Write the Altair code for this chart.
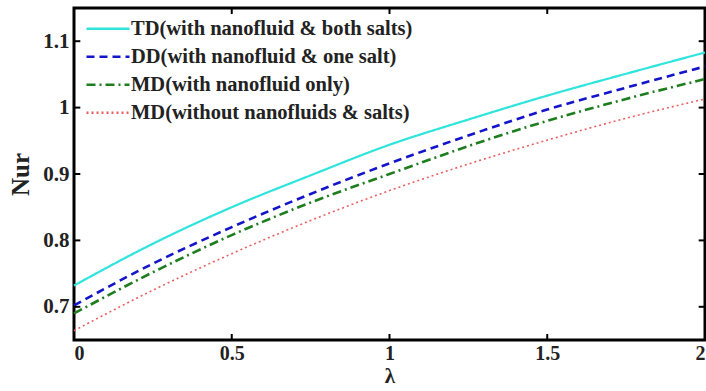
import altair as alt
import pandas as pd

lam = [0, 0.25, 0.5, 0.75, 1.0, 1.25, 1.5, 1.75, 2.0]
td = [0.732, 0.795, 0.850, 0.898, 0.944, 0.982, 1.018, 1.051, 1.083]
dd = [0.702, 0.765, 0.820, 0.870, 0.916, 0.958, 0.997, 1.030, 1.062]
md = [0.690, 0.752, 0.808, 0.857, 0.900, 0.942, 0.980, 1.013, 1.043]
mw = [0.664, 0.725, 0.780, 0.830, 0.875, 0.915, 0.951, 0.984, 1.013]

names = ["TD(with nanofluid & both salts)",
         "DD(with nanofluid & one salt)",
         "MD(with nanofluid only)",
         "MD(without nanofluids & salts)"]
colors = ["#2ee4dc", "#1414c8", "#1e7d1e", "#ec5f5f"]
dashes = [[1, 0], [8, 5], [9, 4, 2, 4], [2, 3]]
widths = [2.2, 2.6, 2.6, 1.6]

x_ticks = [0, 0.5, 1, 1.5, 2]
y_ticks = [0.7, 0.8, 0.9, 1.0, 1.1]
x_dom = [0, 2]
y_dom = [0.65, 1.15]

rows = []
for name, vals, w in zip(names, [td, dd, md, mw], widths):
    for xv, yv in zip(lam, vals):
        rows.append({"lam": xv, "Nur": yv, "series": name, "w": w})
df = pd.DataFrame(rows)

FONT = "Times New Roman, Liberation Serif, serif"

xs = alt.Scale(domain=x_dom, nice=False, zero=False)
ys = alt.Scale(domain=y_dom, nice=False, zero=False)

leg = alt.Legend(orient="none", legendX=11, legendY=7, padding=0,
                 title=None, symbolType="stroke",
                 symbolSize=1849, symbolStrokeWidth=2.6,
                 labelFont=FONT, labelFontSize=20.5, labelLimit=0,
                 labelFontWeight="bold", labelColor="#222",
                 clipHeight=27.5, rowPadding=0, labelOffset=0)

common = dict(ticks=False, domain=False, grid=False,
              labelFont=FONT, labelFontWeight="bold",
              labelColor="#222", titleFont=FONT, titleFontWeight="bold",
              titleColor="#222")

lines = alt.Chart(df).mark_line(interpolate="monotone").encode(
    x=alt.X("lam:Q", scale=xs,
            axis=alt.Axis(values=x_ticks, format="~g", title="λ",
                          labelFontSize=20, labelPadding=3, titlePadding=2,
                          titleFontSize=21, **common)),
    y=alt.Y("Nur:Q", scale=ys,
            axis=alt.Axis(values=y_ticks, format="~g", title="Nur",
                          labelFontSize=21, labelPadding=5, titlePadding=9,
                          titleFontSize=25, **common)),
    color=alt.Color("series:N", sort=names,
                    scale=alt.Scale(domain=names, range=colors),
                    legend=leg),
    strokeDash=alt.StrokeDash("series:N", sort=names,
                              scale=alt.Scale(domain=names, range=dashes),
                              legend=leg),
    strokeWidth=alt.StrokeWidth("w:Q", scale=None, legend=None),
)

tick_len_x = 0.02
tick_len_y = 0.009
xt = pd.DataFrame({"t": x_ticks})
yt = pd.DataFrame({"t": y_ticks})

bottom = alt.Chart(xt).mark_rule(color="black", strokeWidth=2).encode(
    x=alt.X("t:Q", scale=xs), y=alt.datum(y_dom[0]), y2=alt.datum(y_dom[0] + tick_len_y))
top = alt.Chart(xt).mark_rule(color="black", strokeWidth=2).encode(
    x=alt.X("t:Q", scale=xs), y=alt.datum(y_dom[1]), y2=alt.datum(y_dom[1] - tick_len_y))
left = alt.Chart(yt).mark_rule(color="black", strokeWidth=2).encode(
    y=alt.Y("t:Q", scale=ys), x=alt.datum(x_dom[0]), x2=alt.datum(x_dom[0] + tick_len_x))
right = alt.Chart(yt).mark_rule(color="black", strokeWidth=2).encode(
    y=alt.Y("t:Q", scale=ys), x=alt.datum(x_dom[1]), x2=alt.datum(x_dom[1] - tick_len_x))

chart = alt.layer(lines, bottom, top, left, right).properties(
    width=631, height=332,
    autosize=alt.AutoSizeParams(type="none"),
    padding={"left": 74, "top": 8, "right": 1, "bottom": 51},
    background="white",
).configure_view(
    stroke="black", strokeWidth=3
)

chart.save("out.html", embed_options={"renderer": "svg", "actions": False})
